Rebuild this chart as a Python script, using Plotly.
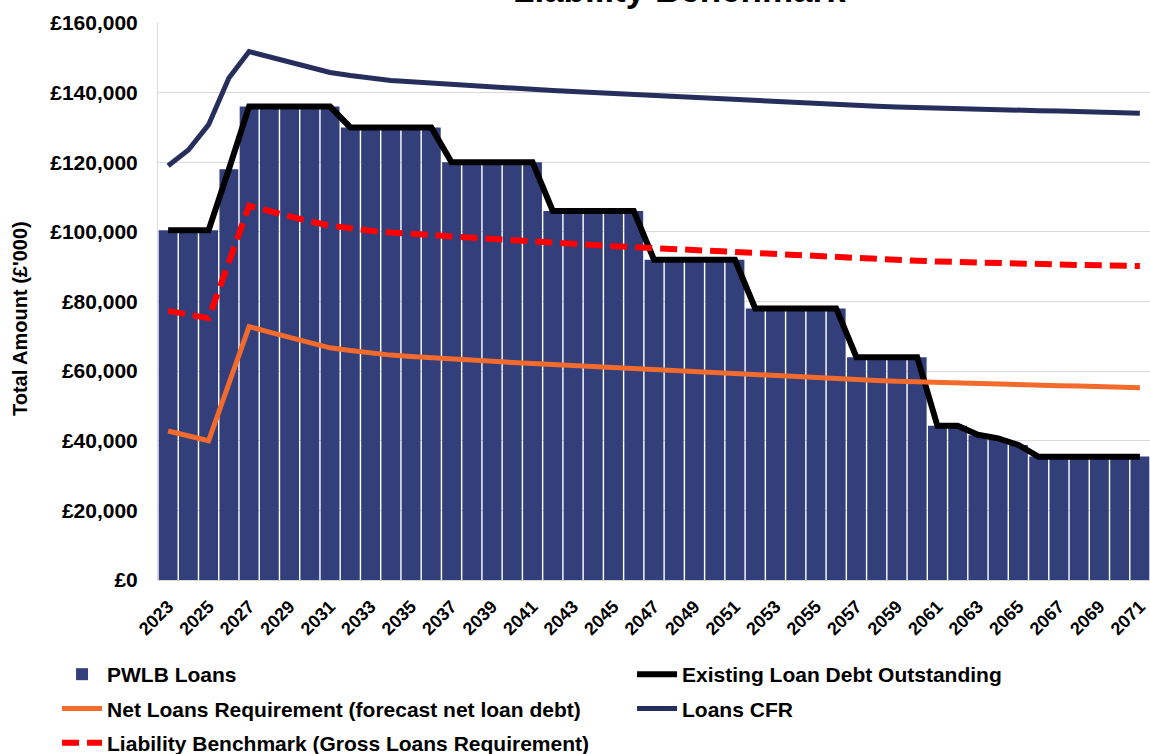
import plotly.graph_objects as go

years = list(range(2023, 2072))

pwlb_loans = [100.5, 100.5, 100.5, 118.0, 136.0, 136.0, 136.0, 136.0, 136.0,
              130.0, 130.0, 130.0, 130.0, 130.0,
              120.0, 120.0, 120.0, 120.0, 120.0,
              106.0, 106.0, 106.0, 106.0, 106.0,
              92.0, 92.0, 92.0, 92.0, 92.0,
              78.0, 78.0, 78.0, 78.0, 78.0,
              64.0, 64.0, 64.0, 64.0,
              44.3, 44.3, 41.6, 40.6, 38.8,
              35.5, 35.5, 35.5, 35.5, 35.5, 35.5]

existing_debt = [100.5, 100.5, 100.5, 118.0, 136.0, 136.0, 136.0, 136.0, 136.0,
                 130.0, 130.0, 130.0, 130.0, 130.0,
                 120.0, 120.0, 120.0, 120.0, 120.0,
                 106.0, 106.0, 106.0, 106.0, 106.0,
                 92.0, 92.0, 92.0, 92.0, 92.0,
                 78.0, 78.0, 78.0, 78.0, 78.0,
                 64.0, 64.0, 64.0, 64.0,
                 44.3, 44.3, 41.7, 40.7, 38.8,
                 35.4, 35.4, 35.4, 35.4, 35.4, 35.4]

net_loans_req = [42.8, 41.4, 40.0, 56.4, 72.8, 71.2, 69.6, 68.1, 66.7, 65.9,
                 65.2, 64.6, 64.2, 63.8, 63.4, 63.1, 62.8, 62.5, 62.2, 61.9,
                 61.6, 61.3, 61.0, 60.6, 60.3, 60.0, 59.7, 59.4, 59.1, 58.8,
                 58.5, 58.2, 57.9, 57.7, 57.5, 57.3, 57.1, 56.9, 56.8, 56.6,
                 56.4, 56.3, 56.1, 56.0, 55.8, 55.7, 55.5, 55.4, 55.2]

loans_cfr = [119.0, 123.5, 130.8, 144.2, 151.8, 150.3, 148.8, 147.2, 145.8, 144.9,
             144.1, 143.5, 143.1, 142.7, 142.3, 142.0, 141.6, 141.3, 141.0, 140.6,
             140.3, 140.0, 139.7, 139.4, 139.1, 138.8, 138.5, 138.2, 137.9, 137.6,
             137.3, 137.0, 136.7, 136.5, 136.3, 136.1, 135.9, 135.7, 135.6, 135.4,
             135.3, 135.1, 135.0, 134.8, 134.7, 134.5, 134.4, 134.2, 134.1]

liability_benchmark = [77.3, 76.2, 75.2, 91.3, 107.5, 106.0, 104.4, 103.0, 101.8, 100.9,
                       100.3, 99.8, 99.4, 99.0, 98.6, 98.2, 97.8, 97.5, 97.1, 96.8,
                       96.5, 96.2, 95.9, 95.6, 95.2, 94.9, 94.6, 94.3, 94.0, 93.7,
                       93.4, 93.2, 92.9, 92.6, 92.3, 92.1, 91.9, 91.7, 91.5, 91.3,
                       91.2, 91.0, 90.9, 90.7, 90.6, 90.5, 90.4, 90.3, 90.2]

scale = 1000  # values above are in thousands of £'000
tick_years = years[::2]

FONT = "Liberation Sans, Arial, sans-serif"

fig = go.Figure()
fig.add_trace(go.Bar(x=years, y=[v * scale for v in pwlb_loans], name="PWLB Loans",
                     legend="legend", legendgroup="a",
                     marker=dict(color="#323F7B", line=dict(width=0))))
fig.add_trace(go.Scatter(x=years, y=[v * scale for v in existing_debt], mode="lines",
                         name="Existing Loan Debt Outstanding",
                         legend="legend2", legendgroup="b",
                         line=dict(color="#000000", width=6)))
fig.add_trace(go.Scatter(x=years, y=[v * scale for v in net_loans_req], mode="lines",
                         name="Net Loans Requirement (forecast net loan debt)",
                         legend="legend", legendgroup="c",
                         line=dict(color="#F26B2C", width=5)))
fig.add_trace(go.Scatter(x=years, y=[v * scale for v in loans_cfr], mode="lines",
                         name="Loans CFR",
                         legend="legend2", legendgroup="d",
                         line=dict(color="#262F5C", width=5)))
fig.add_trace(go.Scatter(x=years, y=[v * scale for v in liability_benchmark], mode="lines",
                         name="Liability Benchmark (Gross Loans Requirement)",
                         legend="legend", legendgroup="e",
                         line=dict(color="#FF0000", width=6, dash="17px,8px")))

legend_common = dict(
    orientation="v", xref="container", yref="container",
    y=0.1326, xanchor="left", yanchor="top",
    font=dict(family=FONT, size=21, color="#000000", weight="bold"),
    traceorder="grouped", tracegroupgap=4, itemwidth=40,
    bgcolor="rgba(0,0,0,0)",
)

fig.update_layout(
    width=1150, height=754,
    margin=dict(l=158, r=0, t=23, b=174, autoexpand=False),
    paper_bgcolor="white", plot_bgcolor="white",
    font=dict(family=FONT, color="#000000"),
    bargap=0.07,
    showlegend=True,
    legend=dict(x=0.0496, **legend_common),
    legend2=dict(x=0.5496, **legend_common),
    annotations=[
        dict(text="<b>Liability Benchmark</b>", xref="paper", yref="paper",
             x=0.526, y=1.06, xanchor="center", yanchor="middle", showarrow=False,
             font=dict(family=FONT, size=35, color="#000000")),
        dict(text="<b>Total Amount (£'000)</b>", xref="paper", yref="paper",
             x=-0.1391, y=0.4686, xanchor="center", yanchor="middle", showarrow=False,
             textangle=-90, font=dict(family=FONT, size=20, color="#000000")),
    ],
)

fig.update_xaxes(
    range=[2022.5, 2071.5], tickmode="array", tickvals=tick_years,
    ticktext=[str(y) for y in tick_years], tickangle=-45,
    tickfont=dict(family=FONT, size=18, color="#000000", weight="bold"),
    showgrid=False, showline=True, linecolor="#D9D9D9", linewidth=1,
    ticks="", zeroline=False, automargin=False, ticklabelstandoff=8,
)
fig.update_yaxes(
    range=[0, 160000], dtick=20000, tickprefix="£", tickformat=",",
    tickfont=dict(family=FONT, size=21, color="#000000", weight="bold"),
    showgrid=True, gridcolor="#D9D9D9", gridwidth=1,
    showline=True, linecolor="#D9D9D9", linewidth=1, zeroline=False,
    ticks="", ticklabelstandoff=15, automargin=False,
)

fig.write_html("out.html", config={"displayModeBar": False},
               post_script="document.body.style.margin='0';document.body.style.overflow='hidden';")
